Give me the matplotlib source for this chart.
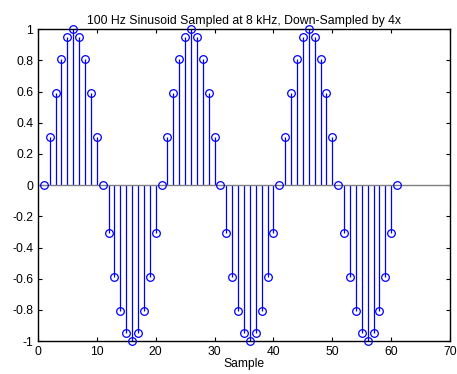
import matplotlib.pyplot as plt

plt.rcParams['font.family'] = ['Liberation Sans', 'DejaVu Sans']

# one period of the down-sampled sinusoid (20 samples)
period = [0, 0.309, 0.588, 0.809, 0.951, 1.0, 0.951, 0.809, 0.588, 0.309,
          0, -0.309, -0.588, -0.809, -0.951, -1.0, -0.951, -0.809, -0.588, -0.309]
values = period * 3 + [0]
samples = list(range(1, len(values) + 1))

fig = plt.figure(figsize=(4.57, 3.74), dpi=100)
ax = fig.add_axes([0.083, 0.088, 0.902, 0.834])

markers, stems, base = ax.stem(samples, values, basefmt='-')
plt.setp(stems, color='#0000ff', linewidth=0.9)
plt.setp(markers, color='#0000ff', markerfacecolor='none', markersize=5.5,
         markeredgewidth=0.9, clip_on=False, zorder=4)
plt.setp(base, color='#808080', linewidth=1.0)
base.set_xdata([0, 70])

ax.set_xlim(0, 70)
ax.set_ylim(-1, 1)
ax.set_xticks(range(0, 71, 10))
ax.set_yticks([-1, -0.8, -0.6, -0.4, -0.2, 0, 0.2, 0.4, 0.6, 0.8, 1])
ax.set_yticklabels(['-1', '-0.8', '-0.6', '-0.4', '-0.2', '0', '0.2', '0.4', '0.6', '0.8', '1'])
ax.tick_params(direction='in', top=True, right=True, labelsize=8.7, length=3, width=0.8)
for s in ax.spines.values():
    s.set_linewidth(1.0)
ax.set_title('100 Hz Sinusoid Sampled at 8 kHz, Down-Sampled by 4x', fontsize=8.8, pad=4)
ax.set_xlabel('Sample', fontsize=8.7, labelpad=0)

fig.savefig('out.png', dpi=100)
